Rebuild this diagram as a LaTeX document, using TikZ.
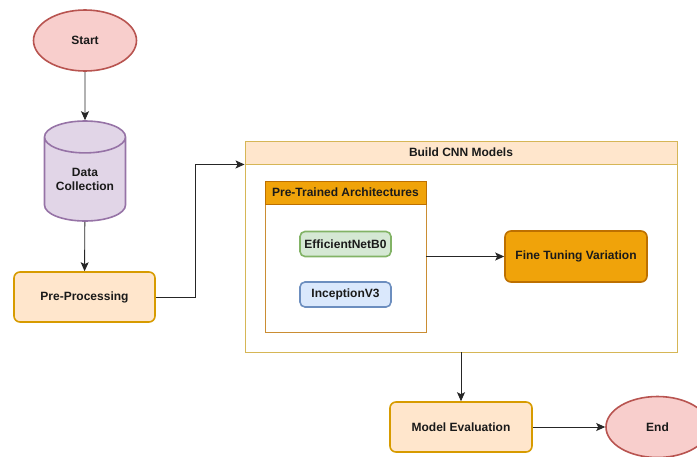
\documentclass[tikz,border=0pt]{standalone}
\usepackage{fontspec}
\setmainfont{Liberation Sans}
\usetikzlibrary{shapes.geometric,arrows.meta}
\definecolor{redfill}{HTML}{F8CECC}
\definecolor{redline}{HTML}{B85450}
\definecolor{purplefill}{HTML}{E1D5E7}
\definecolor{purpleline}{HTML}{9673A6}
\definecolor{peachfill}{HTML}{FFE6CC}
\definecolor{peachline}{HTML}{D79B00}
\definecolor{goldline}{HTML}{D6B656}
\definecolor{orangefill}{HTML}{F0A30A}
\definecolor{orangeline}{HTML}{BD7000}
\definecolor{greenfill}{HTML}{D5E8D4}
\definecolor{greenline}{HTML}{82B366}
\definecolor{bluefill}{HTML}{DAE8FC}
\definecolor{blueline}{HTML}{6C8EBF}
\definecolor{txt}{HTML}{1A1A1A}
\begin{document}
\begin{tikzpicture}[x=1pt,y=-1pt,font=\fontsize{12}{14}\selectfont\bfseries,text=txt]
\tikzset{
  terminal/.style={ellipse,draw=redline,fill=redfill,line width=1.6pt,minimum width=103pt,minimum height=61pt,inner sep=0pt},
  process/.style={rectangle,rounded corners=6pt,draw=peachline,fill=peachfill,line width=1.6pt,minimum width=141pt,minimum height=50pt},
  model/.style={rectangle,rounded corners=5pt,line width=1.6pt,minimum width=91pt,minimum height=25pt,inner sep=0pt},
  flow/.style={draw=black!85,line width=0.9pt,-{Stealth[length=9pt,width=8pt,inset=2pt]}}
}
\useasboundingbox (0,0) rectangle (697,456);
\node[terminal] (start) at (85,40.5) {Start};
\node[cylinder,shape border rotate=90,aspect=0.55,draw=purpleline,fill=purplefill,line width=1.6pt,
  minimum width=81pt,minimum height=100pt,inner sep=0pt,align=center,anchor=shape center] (data) at (85,171) {Data\\Collection};
\node[process] (prep) at (84.5,297) {Pre-Processing};
\node[rectangle,draw=goldline,line width=0.9pt,minimum width=432pt,minimum height=211pt] (cnn) at (461,246.5) {};
\node[rectangle,draw=goldline,fill=peachfill,line width=0.9pt,minimum width=432pt,minimum height=23pt] (cnnhead) at (461,152.5) {Build CNN Models};
\node[rectangle,draw=orangeline!80,fill=white,line width=0.9pt,minimum width=161pt,minimum height=151pt] (arch) at (345.5,256.5) {};
\node[rectangle,draw=orangeline,fill=orangefill,line width=0.9pt,minimum width=161pt,minimum height=23pt] (archhead) at (345.5,192.5) {Pre-Trained Architectures};
\node[model,draw=greenline,fill=greenfill] (effnet) at (345.5,244) {EfficientNetB0};
\node[model,draw=blueline,fill=bluefill] (incep) at (345.5,294.5) {InceptionV3};
\node[process,draw=orangeline,fill=orangefill,minimum width=142pt,minimum height=51pt] (tune) at (576,256.5) {Fine Tuning Variation};
\node[process,minimum width=142pt] (eval) at (461,427) {Model Evaluation};
\node[terminal] (end) at (657.5,427) {End};
\draw[flow] (start) -- (data);
\draw[flow] (data) -- (prep);
\draw[flow] (prep.east) -- ++(40,0) |- (cnnhead.south west);
\draw[flow] (arch.east) -- (tune.west);
\draw[flow] (cnn.south) -- (eval.north);
\draw[flow] (eval.east) -- (end.west);
\end{tikzpicture}
\end{document}
